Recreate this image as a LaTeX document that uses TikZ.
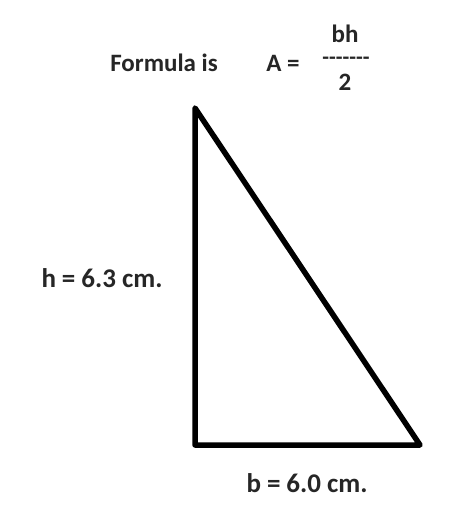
\documentclass[tikz,border=0pt]{standalone}
\usepackage{fontspec}
\setmainfont{Carlito}
\newcommand{\gp}{\hspace{6pt}}
\begin{document}
\begin{tikzpicture}[x=1pt,y=-1pt,
  lbl/.style={font=\bfseries\fontsize{27}{30}\selectfont, text=black!85, inner sep=0pt, anchor=center},
  small/.style={font=\bfseries\fontsize{25}{28}\selectfont, text=black!85, inner sep=0pt, anchor=center},
  edge/.style={line width=5.5pt, line join=round, line cap=round}]
\useasboundingbox (0,0) rectangle (467,525);
\fill[white] (0,0) rectangle (467,525);
\coordinate (T) at (195,108);
\coordinate (BL) at (195,445);
\coordinate (BR) at (420,445);
\draw[edge] (T) -- (BL) -- (BR) -- cycle;
\node[small] (f) at (164,63) {Formula is};
\node[small] (a) at (283,63) {A =};
\node[small, anchor=base, text depth=0pt] (n) at (345,42) {bh};
\node[small, anchor=base, font=\bfseries\fontsize{22}{24}\selectfont, text height=8pt, text depth=0pt] (d) at (346,64.5) {-{}-{}-{}-{}-{}-{}-};
\node[small, anchor=base] (two) at (345,90) {2};
\node[lbl] (h) at (102,278) {h\gp=\gp6.3\gp cm.};
\node[lbl] (b) at (307,483) {b\gp=\gp6.0\gp cm.};
\end{tikzpicture}
\end{document}
